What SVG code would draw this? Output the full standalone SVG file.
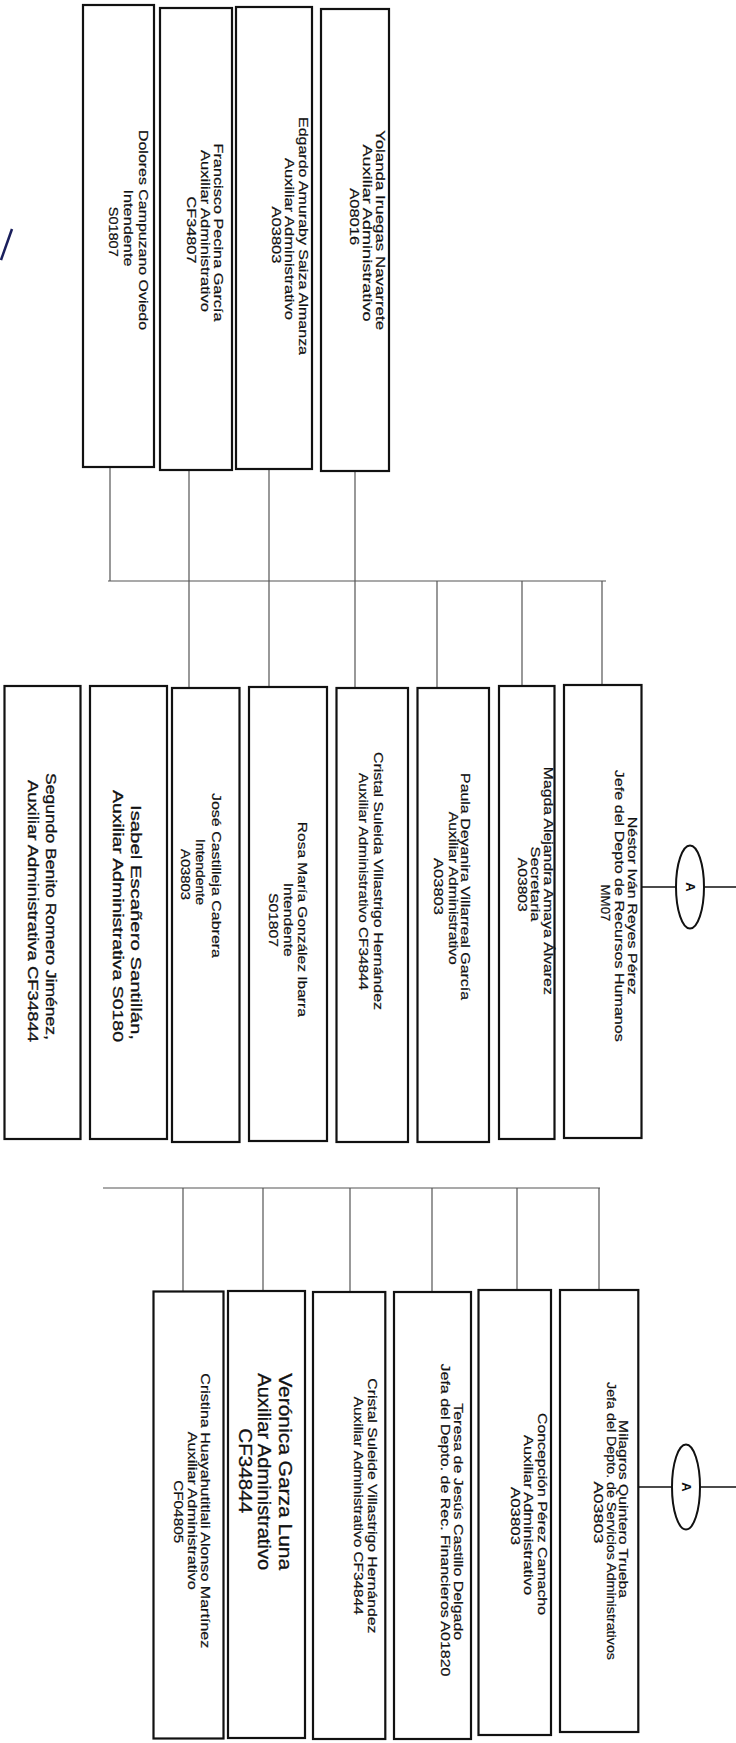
<svg xmlns="http://www.w3.org/2000/svg" width="736" height="1743" viewBox="0 0 736 1743">
<style>
.box{fill:#fff;stroke:#111;stroke-width:2.2}
.t{font-family:"Liberation Sans",Arial,sans-serif;font-size:12.5px;fill:#111;stroke:#111;stroke-width:0.2;text-anchor:middle;dominant-baseline:central}
.b15{font-size:15px;stroke-width:0.3}
.b18{font-size:18px;stroke-width:0.3}
.conn{stroke:#555;stroke-width:1.2;fill:none}
.cir{fill:#fff;stroke:#111;stroke-width:2}
.link{stroke:#111;stroke-width:1.6;fill:none}
.A{font-family:"Liberation Sans",Arial,sans-serif;font-size:13px;font-weight:bold;fill:#111;text-anchor:middle;dominant-baseline:central}
</style>
<rect width="736" height="1743" fill="#fff"/>
<path d="M1,260 L12,229" stroke="#1a1f5c" stroke-width="2.5" fill="none"/>
<g id="connectors">
<path class="conn" d="M110,467 V581 M189,470 V688 M269,469 V687 M355,471 V688 M108,581 H606 M437,581 V688 M522,581 V686 M602,581 V685"/>
<path class="conn" d="M103,1188 H600 M183,1188 V1291 M263,1188 V1291 M350,1188 V1292 M432,1188 V1292 M517,1188 V1290 M599,1188 V1290"/>
<path class="link" d="M641,887 H676 M704,887 H736"/>
<path class="link" d="M638,1487 H672 M700,1487 H736"/>
</g>
<g id="n-dolores"><rect class="box" x="83" y="5" width="71" height="462"/>
<text class="t" transform="translate(142.7,230) rotate(90)" textLength="200" lengthAdjust="spacingAndGlyphs">Dolores Campuzano Oviedo</text>
<text class="t" transform="translate(128.3,228) rotate(90)" textLength="77" lengthAdjust="spacingAndGlyphs">Intendente</text>
<text class="t" transform="translate(113.3,231.7) rotate(90)" textLength="50" lengthAdjust="spacingAndGlyphs">S01807</text></g>
<g id="n-francisco"><rect class="box" x="160" y="8" width="72" height="462"/>
<text class="t" transform="translate(218.3,232.5) rotate(90)" textLength="178" lengthAdjust="spacingAndGlyphs">Francisco Pecina García</text>
<text class="t" transform="translate(205,231) rotate(90)" textLength="162" lengthAdjust="spacingAndGlyphs">Auxiliar Administrativo</text>
<text class="t" transform="translate(190.7,230) rotate(90)" textLength="67" lengthAdjust="spacingAndGlyphs">CF34807</text></g>
<g id="n-edgardo"><rect class="box" x="236" y="7" width="76" height="462"/>
<text class="t" transform="translate(303.3,236) rotate(90)" textLength="238" lengthAdjust="spacingAndGlyphs">Edgardo Amuraby Saiza Almanza</text>
<text class="t" transform="translate(289,239) rotate(90)" textLength="162" lengthAdjust="spacingAndGlyphs">Auxiliar Administrativo</text>
<text class="t" transform="translate(276,235) rotate(90)" textLength="57" lengthAdjust="spacingAndGlyphs">A03803</text></g>
<g id="n-yolanda"><rect class="box" x="321" y="9" width="68" height="462"/>
<text class="t" transform="translate(380,230) rotate(90)" textLength="200" lengthAdjust="spacingAndGlyphs">Yolanda Iruegas Navarrete</text>
<text class="t" transform="translate(367.3,233) rotate(90)" textLength="177" lengthAdjust="spacingAndGlyphs">Auxiliar Administrativo</text>
<text class="t" transform="translate(354,216.7) rotate(90)" textLength="57" lengthAdjust="spacingAndGlyphs">A08016</text></g>
<g id="n-segundo"><rect class="box" x="4.5" y="686" width="76" height="453"/>
<text class="t b15" transform="translate(51.7,906.5) rotate(90)" textLength="267" lengthAdjust="spacingAndGlyphs">Segundo Benito Romero Jiménez,</text>
<text class="t b15" transform="translate(33.3,911) rotate(90)" textLength="262" lengthAdjust="spacingAndGlyphs">Auxiliar Administrativa CF34844</text></g>
<g id="n-isabel"><rect class="box" x="90" y="686" width="77" height="453"/>
<text class="t b15" transform="translate(136.7,922.5) rotate(90)" textLength="235" lengthAdjust="spacingAndGlyphs">Isabel Escañero Santillán,</text>
<text class="t b15" transform="translate(118.3,916) rotate(90)" textLength="252" lengthAdjust="spacingAndGlyphs">Auxiliar Administrativa S0180</text></g>
<g id="n-jose"><rect class="box" x="172" y="688" width="67.5" height="454"/>
<text class="t" transform="translate(216,875.5) rotate(90)" textLength="165" lengthAdjust="spacingAndGlyphs">José Castilleja Cabrera</text>
<text class="t" transform="translate(200,872) rotate(90)" textLength="66" lengthAdjust="spacingAndGlyphs">Intendente</text>
<text class="t" transform="translate(185,874.5) rotate(90)" textLength="51" lengthAdjust="spacingAndGlyphs">A03803</text></g>
<g id="n-rosa"><rect class="box" x="249" y="687" width="78" height="454"/>
<text class="t" transform="translate(301.7,919.3) rotate(90)" textLength="195" lengthAdjust="spacingAndGlyphs">Rosa María González Ibarra</text>
<text class="t" transform="translate(288.3,919.7) rotate(90)" textLength="74" lengthAdjust="spacingAndGlyphs">Intendente</text>
<text class="t" transform="translate(273.3,920) rotate(90)" textLength="54" lengthAdjust="spacingAndGlyphs">S01807</text></g>
<g id="n-cristal1"><rect class="box" x="336.5" y="688" width="71.5" height="454"/>
<text class="t" transform="translate(378.3,881) rotate(90)" textLength="258" lengthAdjust="spacingAndGlyphs">Cristal Suleida Villastrigo Hernández</text>
<text class="t" transform="translate(363.3,881.5) rotate(90)" textLength="217" lengthAdjust="spacingAndGlyphs">Auxiliar Administrativo CF34844</text></g>
<g id="n-paula"><rect class="box" x="417.5" y="688" width="71.5" height="454"/>
<text class="t" transform="translate(465,886.5) rotate(90)" textLength="227" lengthAdjust="spacingAndGlyphs">Paula Deyanira Villarreal García</text>
<text class="t" transform="translate(452.5,888.3) rotate(90)" textLength="153" lengthAdjust="spacingAndGlyphs">Auxiliar Administrativo</text>
<text class="t" transform="translate(438,886.5) rotate(90)" textLength="57" lengthAdjust="spacingAndGlyphs">A03803</text></g>
<g id="n-magda"><rect class="box" x="499" y="686" width="55.5" height="453"/>
<text class="t" transform="translate(548.3,880.8) rotate(90)" textLength="228" lengthAdjust="spacingAndGlyphs">Magda Alejandra Amaya Álvarez</text>
<text class="t" transform="translate(535,884) rotate(90)" textLength="75" lengthAdjust="spacingAndGlyphs">Secretaria</text>
<text class="t" transform="translate(521.7,884.8) rotate(90)" textLength="54" lengthAdjust="spacingAndGlyphs">A03803</text></g>
<g id="n-nestor"><rect class="box" x="564" y="685" width="77.5" height="453"/>
<text class="t" transform="translate(631.7,905.8) rotate(90)" textLength="178" lengthAdjust="spacingAndGlyphs">Néstor Iván Reyes Pérez</text>
<text class="t" transform="translate(619,905.8) rotate(90)" textLength="272" lengthAdjust="spacingAndGlyphs">Jefe del Depto  de Recursos Humanos</text>
<text class="t" transform="translate(605,903) rotate(90)" textLength="37" lengthAdjust="spacingAndGlyphs">MM07</text></g>
<g id="n-a1"><ellipse class="cir" cx="690" cy="887" rx="14" ry="41.5"/>
<text class="A" transform="translate(690,887) rotate(90)">A</text></g>
<g id="n-cristina"><rect class="box" x="153.5" y="1291.5" width="70" height="447"/>
<text class="t" transform="translate(205,1510.8) rotate(90)" textLength="275" lengthAdjust="spacingAndGlyphs">Cristina Huayahutitlali Alonso Martínez</text>
<text class="t" transform="translate(191.7,1510.8) rotate(90)" textLength="158" lengthAdjust="spacingAndGlyphs">Auxiliar Administrativo</text>
<text class="t" transform="translate(177.7,1511.7) rotate(90)" textLength="63" lengthAdjust="spacingAndGlyphs">CF04805</text></g>
<g id="n-veronica"><rect class="box" x="228" y="1291" width="77" height="447"/>
<text class="t b18" transform="translate(285,1471.7) rotate(90)" textLength="197" lengthAdjust="spacingAndGlyphs">Verónica Garza Luna</text>
<text class="t b18" transform="translate(264,1471.7) rotate(90)" textLength="197" lengthAdjust="spacingAndGlyphs">Auxiliar Administrativo</text>
<text class="t b18" transform="translate(245,1470.8) rotate(90)" textLength="85" lengthAdjust="spacingAndGlyphs">CF34844</text></g>
<g id="n-cristal2"><rect class="box" x="313" y="1292" width="72.3" height="447"/>
<text class="t" transform="translate(372.3,1505.8) rotate(90)" textLength="255" lengthAdjust="spacingAndGlyphs">Cristal Suleide Villastrigo Hernández</text>
<text class="t" transform="translate(358.3,1505.8) rotate(90)" textLength="218" lengthAdjust="spacingAndGlyphs">Auxiliar Administrativo CF34844</text></g>
<g id="n-teresa"><rect class="box" x="394" y="1292" width="77" height="447"/>
<text class="t" transform="translate(458.3,1521.7) rotate(90)" textLength="237" lengthAdjust="spacingAndGlyphs">Teresa de Jesús Castillo Delgado</text>
<text class="t" transform="translate(445,1520) rotate(90)" textLength="313" lengthAdjust="spacingAndGlyphs">Jefa del Depto. de Rec. Financieros  A01820</text></g>
<g id="n-concepcion"><rect class="box" x="478.5" y="1290" width="72.5" height="445"/>
<text class="t" transform="translate(541.7,1514) rotate(90)" textLength="202" lengthAdjust="spacingAndGlyphs">Concepción Pérez Camacho</text>
<text class="t" transform="translate(528.3,1515) rotate(90)" textLength="160" lengthAdjust="spacingAndGlyphs">Auxiliar Administrativo</text>
<text class="t" transform="translate(515,1516) rotate(90)" textLength="58" lengthAdjust="spacingAndGlyphs">A03803</text></g>
<g id="n-milagros"><rect class="box" x="560" y="1290" width="78.3" height="442"/>
<text class="t" transform="translate(623,1509) rotate(90)" textLength="178" lengthAdjust="spacingAndGlyphs">Milagros Quintero Trueba</text>
<text class="t" transform="translate(611,1521) rotate(90)" textLength="278" lengthAdjust="spacingAndGlyphs">Jefa del Depto.  de Servicios Administrativos</text>
<text class="t" transform="translate(598,1512.5) rotate(90)" textLength="62" lengthAdjust="spacingAndGlyphs">A03803</text></g>
<g id="n-a2"><ellipse class="cir" cx="686" cy="1487" rx="14" ry="42.5"/>
<text class="A" transform="translate(686,1487) rotate(90)">A</text></g>
</svg>
